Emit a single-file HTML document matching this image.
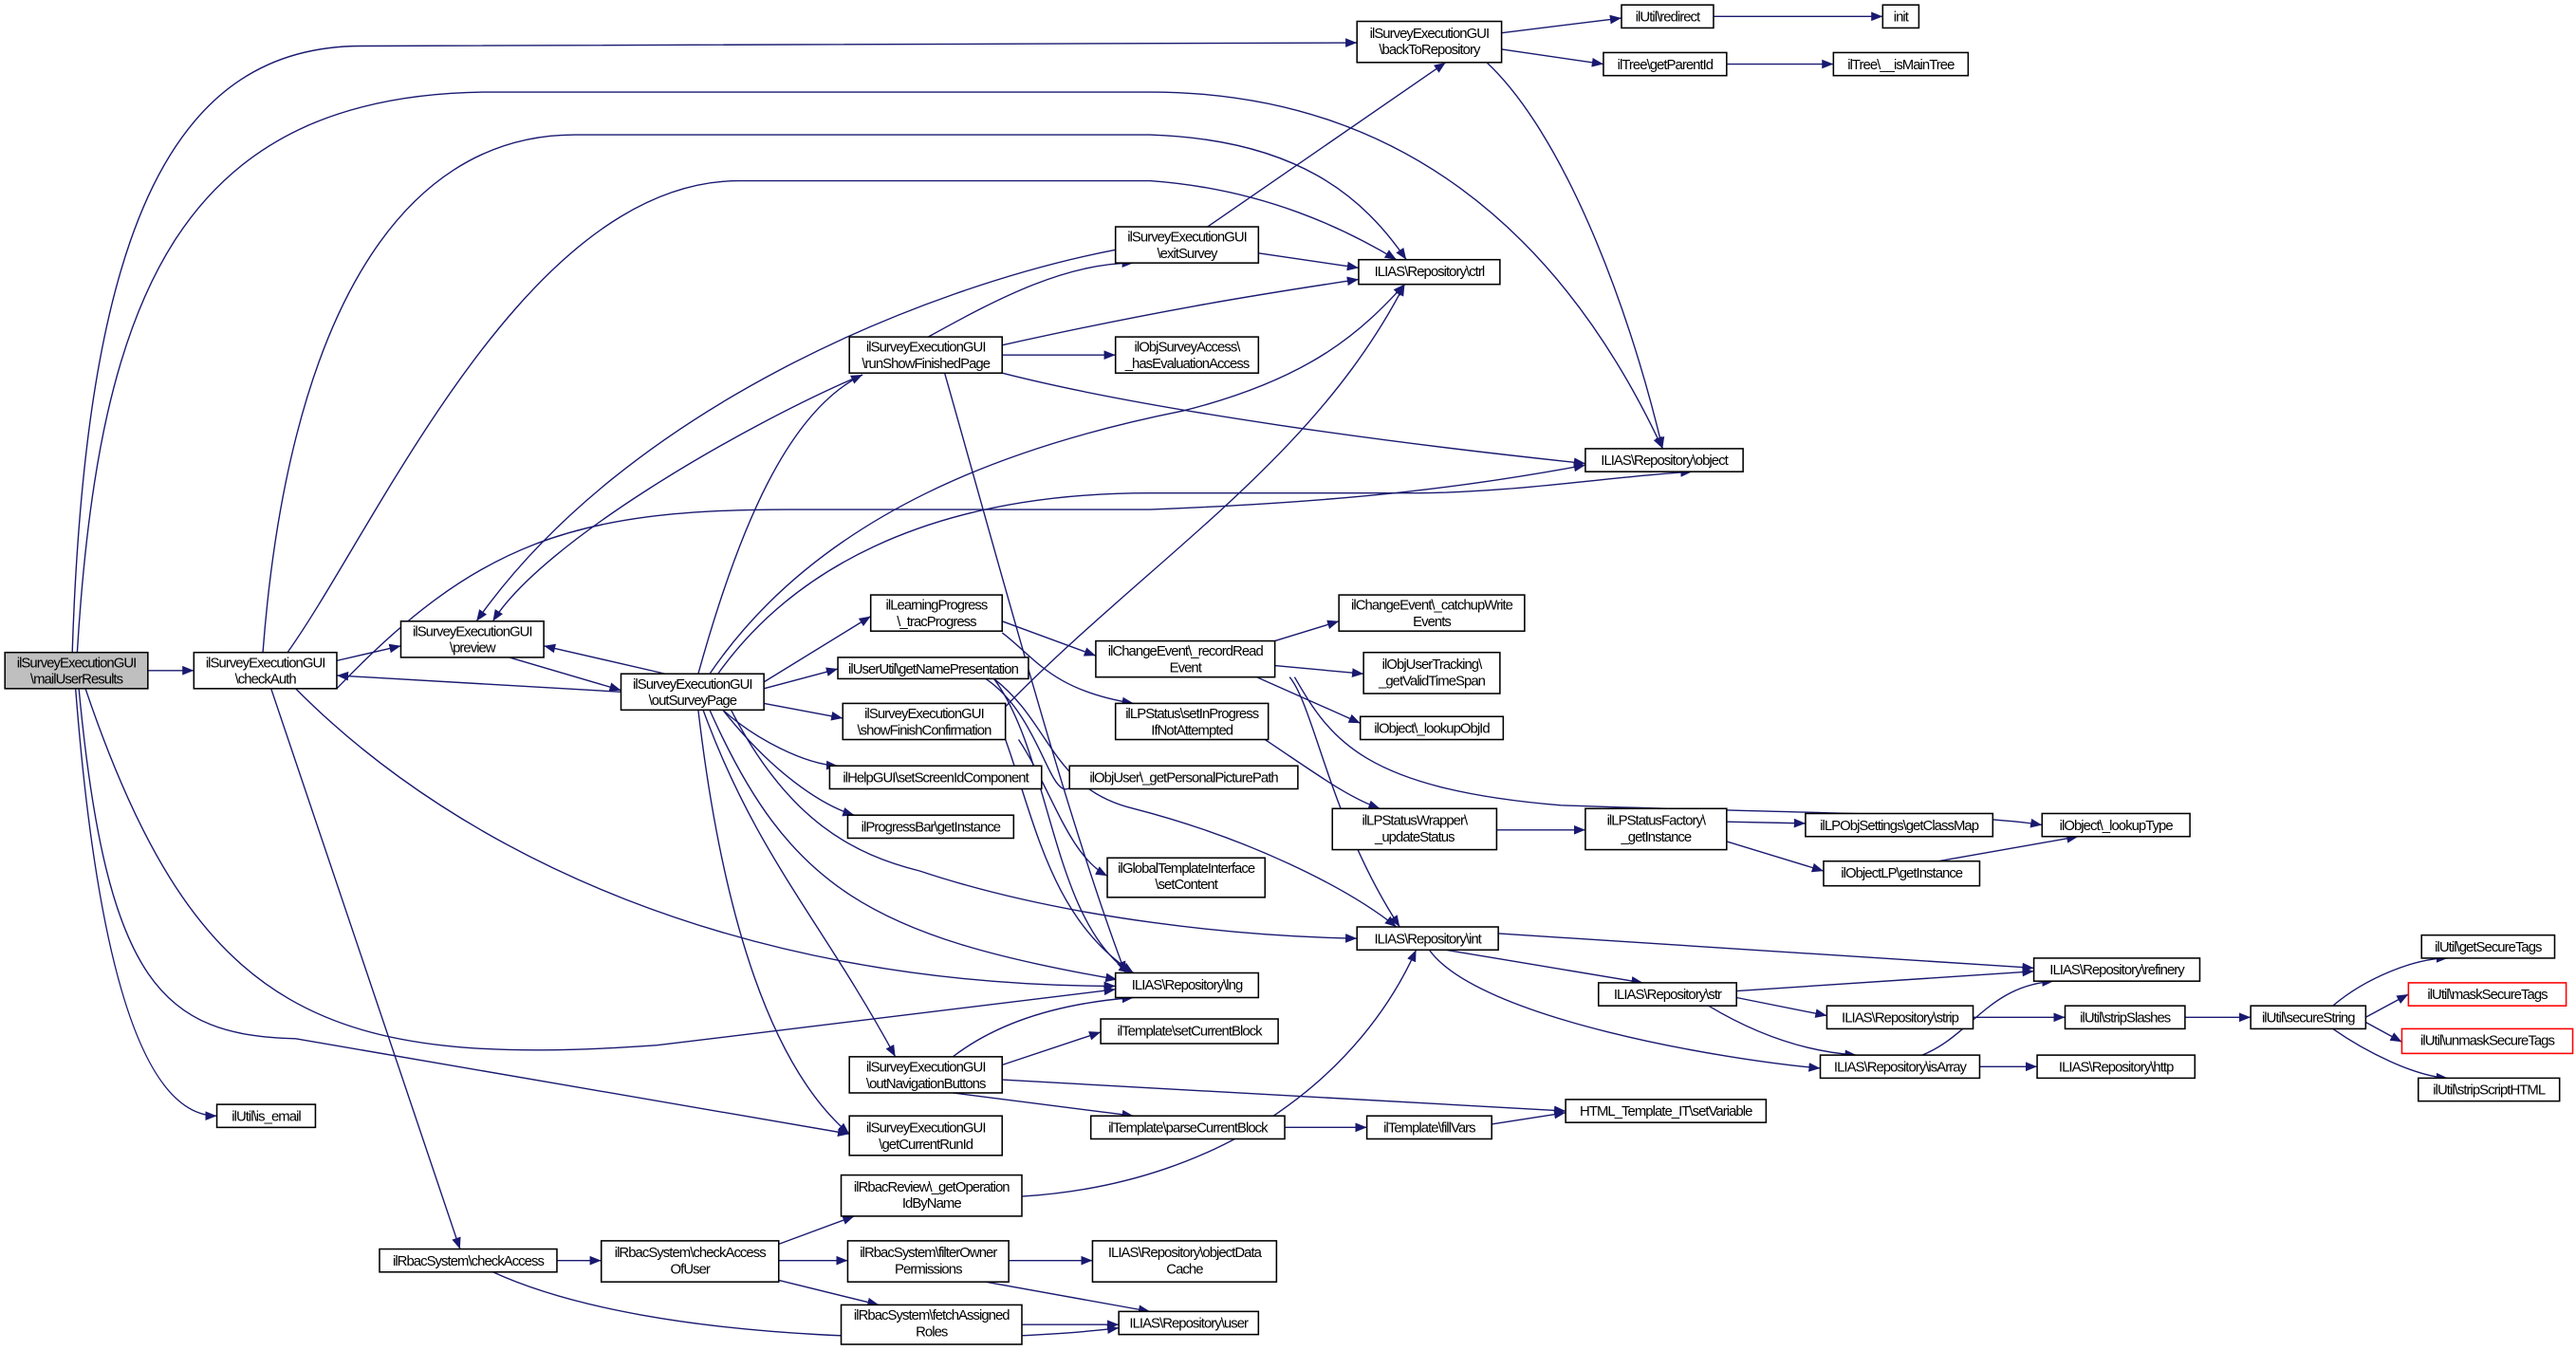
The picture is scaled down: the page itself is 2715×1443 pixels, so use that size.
<!DOCTYPE html>
<html><head><meta charset="utf-8"><style>
html,body{margin:0;padding:0;background:#fff;}
svg{display:block}
text{font-family:"Liberation Sans",sans-serif;font-size:8.6px;letter-spacing:-0.55px;fill:#000;text-anchor:middle}
.n rect{fill:#fff;stroke:#000;stroke-width:0.9}
.e path{fill:none;stroke:#191970;stroke-width:0.8}
</style></head><body>
<svg width="2715" height="1443" viewBox="0 0 1568 833" preserveAspectRatio="none" xmlns="http://www.w3.org/2000/svg">
<defs><marker id="a" viewBox="0 0 10 10" refX="10" refY="5" markerWidth="7" markerHeight="7" orient="auto" markerUnits="userSpaceOnUse"><path d="M0,1 L10,5 L0,9 z" fill="#191970"/></marker></defs>
<g class="e" marker-end="url(#a)">
<path d="M90,408 L118,408" marker-end="url(#a)"/>
<path d="M44,397 C52,150 100,28 220,28 L826,26" marker-end="url(#a)"/>
<path d="M47,397 C60,180 110,56 300,56 L700,56 C850,56 950,140 1012,273" marker-end="url(#a)"/>
<path d="M160,397 C175,200 240,82 350,82 L700,82 C790,85 830,120 856,158" marker-end="url(#a)"/>
<path d="M175,397 C230,320 320,110 450,110 L700,110 C770,115 820,140 850,158" marker-end="url(#a)"/>
<path d="M205,402 L244,393" marker-end="url(#a)"/>
<path d="M378,421 L205,411" marker-end="url(#a)"/>
<path d="M405,410 L331,393" marker-end="url(#a)"/>
<path d="M310,400 L378,420" marker-end="url(#a)"/>
<path d="M525,228 C450,260 330,330 300,378" marker-end="url(#a)"/>
<path d="M679,152 C560,175 380,250 290,378" marker-end="url(#a)"/>
<path d="M180,419 C280,520 450,600 679,600" marker-end="url(#a)"/>
<path d="M165,419 L280,760" marker-end="url(#a)"/>
<path d="M52,419 C120,620 200,650 400,636 L679,602" marker-end="url(#a)"/>
<path d="M46,419 C60,600 90,679 132,679" marker-end="url(#a)"/>
<path d="M48,419 C65,600 100,630 180,632 L517,690" marker-end="url(#a)"/>
<path d="M205,419 C290,330 350,310 480,310 L700,310 C830,305 900,295 965,283" marker-end="url(#a)"/>
<path d="M425,410 C450,320 480,250 525,228" marker-end="url(#a)"/>
<path d="M432,410 C500,310 620,270 720,250 C800,230 830,200 855,173" marker-end="url(#a)"/>
<path d="M437,410 C480,350 560,300 700,300 L860,300 C920,300 980,290 1030,287" marker-end="url(#a)"/>
<path d="M465,415 L530,375" marker-end="url(#a)"/>
<path d="M465,419 L510,407" marker-end="url(#a)"/>
<path d="M465,428 L513,437" marker-end="url(#a)"/>
<path d="M440,432 C460,450 490,465 510,466" marker-end="url(#a)"/>
<path d="M440,432 C470,470 500,490 520,496" marker-end="url(#a)"/>
<path d="M445,432 C480,500 520,520 560,530 C650,560 760,570 826,571" marker-end="url(#a)"/>
<path d="M432,432 C480,540 530,570 680,596" marker-end="url(#a)"/>
<path d="M428,432 C460,520 500,560 545,643" marker-end="url(#a)"/>
<path d="M425,432 C440,560 470,650 517,690" marker-end="url(#a)"/>
<path d="M565,205 C610,180 650,160 690,160" marker-end="url(#a)"/>
<path d="M610,210 C700,190 760,180 827,170" marker-end="url(#a)"/>
<path d="M610,216 L679,216" marker-end="url(#a)"/>
<path d="M610,227 C700,250 850,270 965,282" marker-end="url(#a)"/>
<path d="M575,227 C610,350 650,500 685,592" marker-end="url(#a)"/>
<path d="M735,138 L880,38" marker-end="url(#a)"/>
<path d="M766,154 L827,163" marker-end="url(#a)"/>
<path d="M914,20 L987,11" marker-end="url(#a)"/>
<path d="M914,30 L976,39" marker-end="url(#a)"/>
<path d="M905,38 C950,80 990,180 1012,273" marker-end="url(#a)"/>
<path d="M1043,10 L1146,10" marker-end="url(#a)"/>
<path d="M1051,39 L1116,39" marker-end="url(#a)"/>
<path d="M610,378 L667,399" marker-end="url(#a)"/>
<path d="M610,385 C630,400 640,420 690,428" marker-end="url(#a)"/>
<path d="M776,390 L815,378" marker-end="url(#a)"/>
<path d="M776,405 L830,410" marker-end="url(#a)"/>
<path d="M765,412 L828,440" marker-end="url(#a)"/>
<path d="M785,412 C800,430 810,500 852,564" marker-end="url(#a)"/>
<path d="M788,412 C810,450 830,480 950,490 C1100,495 1200,495 1243,502" marker-end="url(#a)"/>
<path d="M612,430 C700,340 800,280 855,173" marker-end="url(#a)"/>
<path d="M620,450 C640,480 650,520 674,533" marker-end="url(#a)"/>
<path d="M612,450 C630,500 640,560 690,592" marker-end="url(#a)"/>
<path d="M605,413 C640,440 640,480 690,492 C760,510 820,540 850,564" marker-end="url(#a)"/>
<path d="M600,413 C640,440 640,510 660,466" marker-end="url(#a)"/>
<path d="M605,413 C640,460 640,560 688,592" marker-end="url(#a)"/>
<path d="M770,450 C800,470 820,485 840,492" marker-end="url(#a)"/>
<path d="M911,505 L965,505" marker-end="url(#a)"/>
<path d="M1051,500 L1099,501" marker-end="url(#a)"/>
<path d="M1051,512 L1110,530" marker-end="url(#a)"/>
<path d="M1180,524 L1265,509" marker-end="url(#a)"/>
<path d="M912,568 L1238,589" marker-end="url(#a)"/>
<path d="M880,578 L1000,598" marker-end="url(#a)"/>
<path d="M870,578 C900,620 1050,645 1108,650" marker-end="url(#a)"/>
<path d="M1057,603 L1238,591" marker-end="url(#a)"/>
<path d="M1057,607 L1112,618" marker-end="url(#a)"/>
<path d="M1040,612 C1070,630 1100,640 1130,642" marker-end="url(#a)"/>
<path d="M1201,619 L1257,619" marker-end="url(#a)"/>
<path d="M1170,642 C1200,630 1210,600 1250,597" marker-end="url(#a)"/>
<path d="M1205,649 L1240,649" marker-end="url(#a)"/>
<path d="M1330,619 L1370,619" marker-end="url(#a)"/>
<path d="M1440,619 L1466,605" marker-end="url(#a)"/>
<path d="M1420,612 C1440,595 1470,583 1490,583" marker-end="url(#a)"/>
<path d="M1440,622 L1462,634" marker-end="url(#a)"/>
<path d="M1420,626 C1440,640 1470,655 1490,656" marker-end="url(#a)"/>
<path d="M580,643 C610,620 650,610 690,607" marker-end="url(#a)"/>
<path d="M610,648 L670,628" marker-end="url(#a)"/>
<path d="M580,665 L690,679" marker-end="url(#a)"/>
<path d="M610,657 L953,676" marker-end="url(#a)"/>
<path d="M782,686 L832,686" marker-end="url(#a)"/>
<path d="M908,684 L953,677" marker-end="url(#a)"/>
<path d="M622,728 C750,720 830,650 862,578" marker-end="url(#a)"/>
<path d="M339,767 L366,767" marker-end="url(#a)"/>
<path d="M300,774 C400,820 600,818 681,808" marker-end="url(#a)"/>
<path d="M474,757 L520,740" marker-end="url(#a)"/>
<path d="M474,767 L516,767" marker-end="url(#a)"/>
<path d="M474,779 L535,794" marker-end="url(#a)"/>
<path d="M614,767 L665,767" marker-end="url(#a)"/>
<path d="M600,780 L700,798" marker-end="url(#a)"/>
<path d="M622,806 L681,806" marker-end="url(#a)"/>
</g>
<g class="n">
<rect x="3" y="397" width="87" height="22" style="fill:#bfbfbf"/><text x="46.5" y="406">ilSurveyExecutionGUI</text><text x="46.5" y="416">\mailUserResults</text>
<rect x="118" y="397" width="87" height="22"/><text x="161.5" y="406">ilSurveyExecutionGUI</text><text x="161.5" y="416">\checkAuth</text>
<rect x="244" y="378" width="87" height="22"/><text x="287.5" y="387">ilSurveyExecutionGUI</text><text x="287.5" y="397">\preview</text>
<rect x="378" y="410" width="87" height="22"/><text x="421.5" y="419">ilSurveyExecutionGUI</text><text x="421.5" y="429">\outSurveyPage</text>
<rect x="826" y="13" width="88" height="25"/><text x="870" y="23">ilSurveyExecutionGUI</text><text x="870" y="33">\backToRepository</text>
<rect x="987" y="3" width="56" height="14"/><text x="1015" y="13">ilUtil\redirect</text>
<rect x="1146" y="3" width="22" height="14"/><text x="1157" y="13">init</text>
<rect x="976" y="32" width="75" height="14"/><text x="1013.5" y="42">ilTree\getParentId</text>
<rect x="1116" y="32" width="82" height="14"/><text x="1157" y="42">ilTree\__isMainTree</text>
<rect x="679" y="138" width="87" height="22"/><text x="722.5" y="147">ilSurveyExecutionGUI</text><text x="722.5" y="157">\exitSurvey</text>
<rect x="827" y="158" width="86" height="15"/><text x="870" y="168">ILIAS\Repository\ctrl</text>
<rect x="517" y="205" width="93" height="22"/><text x="563.5" y="214">ilSurveyExecutionGUI</text><text x="563.5" y="224">\runShowFinishedPage</text>
<rect x="679" y="205" width="87" height="22"/><text x="722.5" y="214">ilObjSurveyAccess\</text><text x="722.5" y="224">_hasEvaluationAccess</text>
<rect x="965" y="273" width="96" height="14"/><text x="1013" y="283">ILIAS\Repository\object</text>
<rect x="530" y="362" width="80" height="22"/><text x="570" y="371">ilLearningProgress</text><text x="570" y="381">\_tracProgress</text>
<rect x="815" y="362" width="113" height="22"/><text x="871.5" y="371">ilChangeEvent\_catchupWrite</text><text x="871.5" y="381">Events</text>
<rect x="667" y="390" width="109" height="22"/><text x="721.5" y="399">ilChangeEvent\_recordRead</text><text x="721.5" y="409">Event</text>
<rect x="830" y="397" width="83" height="25"/><text x="871.5" y="407">ilObjUserTracking\</text><text x="871.5" y="417">_getValidTimeSpan</text>
<rect x="510" y="400" width="116" height="13"/><text x="568" y="410">ilUserUtil\getNamePresentation</text>
<rect x="513" y="428" width="99" height="22"/><text x="562.5" y="437">ilSurveyExecutionGUI</text><text x="562.5" y="447">\showFinishConfirmation</text>
<rect x="679" y="428" width="93" height="22"/><text x="725.5" y="437">ilLPStatus\setInProgress</text><text x="725.5" y="447">IfNotAttempted</text>
<rect x="828" y="436" width="87" height="14"/><text x="871.5" y="446">ilObject\_lookupObjId</text>
<rect x="505" y="466" width="129" height="14"/><text x="569.5" y="476">ilHelpGUI\setScreenIdComponent</text>
<rect x="651" y="466" width="139" height="14"/><text x="720.5" y="476">ilObjUser\_getPersonalPicturePath</text>
<rect x="516" y="496" width="101" height="14"/><text x="566.5" y="506">ilProgressBar\getInstance</text>
<rect x="811" y="492" width="100" height="25"/><text x="861" y="502">ilLPStatusWrapper\</text><text x="861" y="512">_updateStatus</text>
<rect x="965" y="492" width="86" height="25"/><text x="1008" y="502">ilLPStatusFactory\</text><text x="1008" y="512">_getInstance</text>
<rect x="1099" y="495" width="114" height="14"/><text x="1156" y="505">ilLPObjSettings\getClassMap</text>
<rect x="1243" y="495" width="90" height="14"/><text x="1288" y="505">ilObject\_lookupType</text>
<rect x="674" y="522" width="96" height="24"/><text x="722" y="531">ilGlobalTemplateInterface</text><text x="722" y="541">\setContent</text>
<rect x="1110" y="524" width="95" height="15"/><text x="1157.5" y="534">ilObjectLP\getInstance</text>
<rect x="826" y="564" width="86" height="14"/><text x="869" y="574">ILIAS\Repository\int</text>
<rect x="679" y="592" width="87" height="15"/><text x="722.5" y="602">ILIAS\Repository\lng</text>
<rect x="1238" y="583" width="101" height="14"/><text x="1288.5" y="593">ILIAS\Repository\refinery</text>
<rect x="973" y="598" width="84" height="14"/><text x="1015" y="608">ILIAS\Repository\str</text>
<rect x="1474" y="569" width="81" height="14"/><text x="1514.5" y="579">ilUtil\getSecureTags</text>
<rect x="1466" y="598" width="96" height="14" style="stroke:#f00"/><text x="1514" y="608">ilUtil\maskSecureTags</text>
<rect x="1462" y="626" width="104" height="15" style="stroke:#f00"/><text x="1514" y="636">ilUtil\unmaskSecureTags</text>
<rect x="1472" y="656" width="86" height="14"/><text x="1515" y="666">ilUtil\stripScriptHTML</text>
<rect x="1370" y="612" width="70" height="14"/><text x="1405" y="622">ilUtil\secureString</text>
<rect x="1257" y="612" width="73" height="14"/><text x="1293.5" y="622">ilUtil\stripSlashes</text>
<rect x="1112" y="612" width="89" height="14"/><text x="1156.5" y="622">ILIAS\Repository\strip</text>
<rect x="1108" y="642" width="97" height="14"/><text x="1156.5" y="652">ILIAS\Repository\isArray</text>
<rect x="1240" y="642" width="96" height="14"/><text x="1288" y="652">ILIAS\Repository\http</text>
<rect x="670" y="620" width="108" height="15"/><text x="724" y="630">ilTemplate\setCurrentBlock</text>
<rect x="517" y="643" width="93" height="22"/><text x="563.5" y="652">ilSurveyExecutionGUI</text><text x="563.5" y="662">\outNavigationButtons</text>
<rect x="953" y="669" width="122" height="14"/><text x="1014" y="679">HTML_Template_IT\setVariable</text>
<rect x="664" y="679" width="118" height="14"/><text x="723" y="689">ilTemplate\parseCurrentBlock</text>
<rect x="832" y="679" width="76" height="14"/><text x="870" y="689">ilTemplate\fillVars</text>
<rect x="517" y="679" width="93" height="24"/><text x="563.5" y="689">ilSurveyExecutionGUI</text><text x="563.5" y="699">\getCurrentRunId</text>
<rect x="132" y="672" width="60" height="14"/><text x="162" y="682">ilUtil\is_email</text>
<rect x="512" y="715" width="110" height="25"/><text x="567" y="725">ilRbacReview\_getOperation</text><text x="567" y="735">IdByName</text>
<rect x="231" y="760" width="108" height="14"/><text x="285" y="770">ilRbacSystem\checkAccess</text>
<rect x="366" y="755" width="108" height="25"/><text x="420" y="765">ilRbacSystem\checkAccess</text><text x="420" y="775">OfUser</text>
<rect x="516" y="755" width="98" height="25"/><text x="565" y="765">ilRbacSystem\filterOwner</text><text x="565" y="775">Permissions</text>
<rect x="665" y="755" width="112" height="25"/><text x="721" y="765">ILIAS\Repository\objectData</text><text x="721" y="775">Cache</text>
<rect x="512" y="794" width="110" height="24"/><text x="567" y="803">ilRbacSystem\fetchAssigned</text><text x="567" y="813">Roles</text>
<rect x="681" y="798" width="85" height="14"/><text x="723.5" y="808">ILIAS\Repository\user</text>
</g>
</svg>
</body></html>
